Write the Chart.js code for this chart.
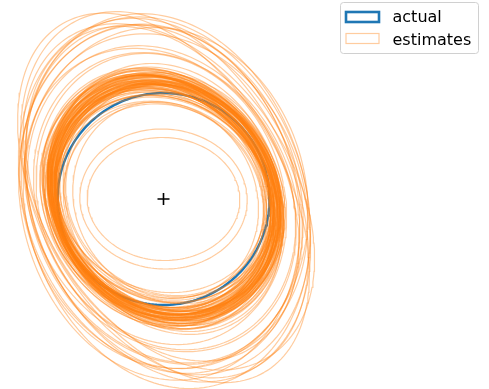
<!DOCTYPE html>
<html>
<head>
<meta charset="utf-8">
<script src="https://cdn.jsdelivr.net/npm/chart.js@4/dist/chart.umd.min.js"></script>
<style>
  html, body { margin: 0; padding: 0; background: #ffffff; }
  #wrap { width: 489px; height: 389px; }
</style>
</head>
<body>
<div id="wrap"><canvas id="c" width="489" height="389"></canvas></div>
<script>
// True ellipse (a circle) and the fitted estimates, in data units.
const actualCenterX = 0;
const actualCenterY = 0;
const actualRadius = 1;

// Fitted ellipses: centre, semi-axes and rotation (degrees, counter-clockwise).
const estCenterX = [
  0.02,-0.03,0.05,0.00,-0.04,0.03,0.01,-0.02,0.06,-0.05,
  0.04,-0.01,0.02,-0.06,0.03,0.00,-0.03,0.05,0.01,-0.02,
  0.04,-0.04,0.02,0.00,-0.01,0.06,-0.05,0.03,0.01,-0.03,
  0.02,-0.02,0.05,0.00,-0.04,0.01,0.03,-0.01,0.04,-0.06,
  0.02,0.00,-0.03,0.05,-0.02,0.01,0.03,-0.04,0.00,0.02,
  -0.01,0.04,-0.03,0.06,0.01,-0.05,0.02,0.00,-0.02,0.03,
  0.05,-0.01,0.01,-0.04,0.02,0.04,-0.02,0.00,0.03,-0.03,
  -0.02,0.03,0.00,0.04,-0.03,0.01,-0.01,0.02,
  0.01,-0.02,0.02,0.00,
  0.00,0.02,-0.03,0.04,-0.02,0.01,0.03,-0.04,0.05,0.00,-0.01,0.02,-0.03,0.04,0.01,-0.02,
  0.00,0.00
];
const estCenterY = [
  -0.02,0.03,0.00,-0.05,0.04,0.01,-0.03,0.06,-0.01,0.02,
  -0.04,0.00,0.05,-0.02,0.03,-0.06,0.01,-0.03,0.04,0.00,
  0.02,-0.01,-0.05,0.03,0.06,-0.02,0.01,-0.04,0.02,0.05,
  0.00,-0.03,0.04,0.01,-0.02,0.03,-0.05,0.02,-0.01,0.04,
  0.06,-0.04,0.00,0.02,-0.03,0.05,-0.02,0.01,0.03,-0.06,
  0.04,0.00,-0.01,0.03,-0.04,0.02,0.05,-0.02,0.01,-0.03,
  0.00,0.04,-0.05,0.02,0.03,-0.01,0.06,-0.03,0.01,0.00,
  0.03,-0.02,0.04,0.01,-0.03,-0.05,0.02,0.00,
  0.00,0.02,-0.01,-0.02,
  0.01,-0.02,0.03,-0.04,0.02,0.04,0.00,-0.03,0.02,-0.05,0.05,0.01,-0.01,0.03,-0.02,0.00,
  0.00,0.00
];
const estSemiMajor = [
  1.15,1.11,1.21,1.08,1.18,1.13,1.24,1.10,1.16,1.20,
  1.12,1.17,1.07,1.22,1.14,1.19,1.09,1.15,1.26,1.11,
  1.18,1.13,1.16,1.05,1.21,1.12,1.17,1.14,1.10,1.23,
  1.15,1.19,1.08,1.16,1.13,1.20,1.11,1.17,1.25,1.14,
  1.09,1.18,1.12,1.16,1.22,1.07,1.15,1.19,1.13,1.11,
  1.17,1.24,1.10,1.14,1.18,1.12,1.16,1.21,1.09,1.15,
  1.13,1.19,1.11,1.17,1.06,1.20,1.14,1.12,1.18,1.16,
  1.27,1.29,1.25,1.28,1.26,1.30,1.24,1.27,
  0.98,1.00,0.95,0.97,
  1.90,1.80,1.72,1.76,1.65,1.84,1.60,1.70,1.78,1.55,1.68,1.62,1.50,1.74,1.45,1.40,
  0.72,0.79
];
const estSemiMinor = [
  1.00,0.98,1.03,0.96,1.01,1.04,0.99,0.97,1.02,1.05,
  0.95,1.00,0.98,1.03,1.01,0.99,0.94,1.02,1.06,0.97,
  1.00,1.04,0.98,0.95,1.01,1.03,0.99,0.96,1.02,1.05,
  0.97,1.00,0.94,1.03,0.99,1.01,0.98,1.04,1.02,0.96,
  0.99,1.05,0.97,1.01,1.00,0.93,1.03,0.98,1.02,0.96,
  1.01,1.04,0.95,0.99,1.02,0.98,1.06,1.00,0.97,1.03,
  0.99,1.01,0.96,1.04,0.94,1.00,1.02,0.97,1.03,0.98,
  1.05,1.03,1.07,1.04,1.06,1.02,1.08,1.05,
  0.86,0.88,0.85,0.89,
  1.15,1.32,1.28,1.25,1.30,1.20,1.28,1.30,1.18,1.22,1.15,1.33,1.20,1.28,1.18,1.15,
  0.58,0.66
];
const estAngleDeg = [
  -55,-48,-62,-40,-58,-51,-66,-45,-53,-60,
  -37,-56,-49,-64,-52,-43,-59,-54,-70,-47,
  -57,-50,-63,-35,-55,-61,-46,-53,-68,-58,
  -44,-57,-51,-65,-49,-54,-42,-60,-56,-52,
  -38,-62,-48,-55,-59,-33,-53,-67,-50,-45,
  -58,-61,-41,-54,-57,-49,-64,-52,-46,-56,
  -60,-51,-43,-59,-72,-55,-48,-53,-62,-50,
  -56,-60,-50,-63,-54,-58,-47,-61,
  -40,-25,-60,-35,
  -60,-74,-70,-66,-72,-63,-68,-76,-58,-65,-62,-78,-60,-69,-64,-70,
  -2,-3
];

const legendLabels = ['actual', 'estimates'];

const BLUE = '#1f77b4';
const ORANGE_FAINT = 'rgba(255,127,14,0.4)';

// Sample an ellipse outline as a closed polyline in data units.
function ellipsePoints(cx, cy, a, b, deg, n) {
  const t = deg * Math.PI / 180;
  const ct = Math.cos(t), st = Math.sin(t);
  const pts = [];
  for (let i = 0; i <= n; i++) {
    const p = 2 * Math.PI * i / n;
    const u = a * Math.cos(p), v = b * Math.sin(p);
    pts.push({ x: cx + u * ct - v * st, y: cy + u * st + v * ct });
  }
  return pts;
}

const datasets = [];
// centre marker on top
datasets.push({
  label: 'centre',
  data: [{ x: actualCenterX, y: actualCenterY }],
  showLine: false,
  pointStyle: 'cross',
  pointRadius: 6,
  borderColor: '#000000',
  borderWidth: 1.6,
  order: 0
});
for (let i = 0; i < estCenterX.length; i++) {
  datasets.push({
    label: legendLabels[1],
    data: ellipsePoints(estCenterX[i], estCenterY[i], estSemiMajor[i], estSemiMinor[i], estAngleDeg[i], 180),
    showLine: true,
    fill: false,
    pointRadius: 0,
    borderColor: ORANGE_FAINT,
    borderWidth: 1.2,
    tension: 0,
    order: 1
  });
}
datasets.push({
  label: legendLabels[0],
  data: ellipsePoints(actualCenterX, actualCenterY, actualRadius, actualRadius, 0, 200),
  showLine: true,
  fill: false,
  pointRadius: 0,
  borderColor: BLUE,
  borderWidth: 2.4,
  tension: 0,
  order: 2
});

// Boxed legend in the upper-right corner.
const boxLegend = {
  id: 'boxLegend',
  afterDraw(chart) {
    const ctx = chart.ctx;
    ctx.save();
    const x0 = 340.5, y0 = 2.5, w = 138, h = 51, r = 3;
    ctx.beginPath();
    ctx.moveTo(x0 + r, y0);
    ctx.lineTo(x0 + w - r, y0);
    ctx.arcTo(x0 + w, y0, x0 + w, y0 + r, r);
    ctx.lineTo(x0 + w, y0 + h - r);
    ctx.arcTo(x0 + w, y0 + h, x0 + w - r, y0 + h, r);
    ctx.lineTo(x0 + r, y0 + h);
    ctx.arcTo(x0, y0 + h, x0, y0 + h - r, r);
    ctx.lineTo(x0, y0 + r);
    ctx.arcTo(x0, y0, x0 + r, y0, r);
    ctx.closePath();
    ctx.fillStyle = 'rgba(255,255,255,0.8)';
    ctx.fill();
    ctx.strokeStyle = '#d0d0d0';
    ctx.lineWidth = 1;
    ctx.stroke();

    ctx.lineWidth = 2.6;
    ctx.strokeStyle = BLUE;
    ctx.strokeRect(346, 12, 33, 10);
    ctx.lineWidth = 1.2;
    ctx.strokeStyle = ORANGE_FAINT;
    ctx.strokeRect(346, 33.5, 33, 10);

    ctx.fillStyle = '#000000';
    ctx.font = '16px "DejaVu Sans", sans-serif';
    ctx.textBaseline = 'alphabetic';
    ctx.textAlign = 'left';
    ctx.fillText(legendLabels[0], 392.5, 21.5);
    ctx.fillText(legendLabels[1], 392.5, 45);
    ctx.restore();
  }
};

const PX_PER_UNIT = 106;
const CX = 163.5, CY = 199;

new Chart(document.getElementById('c'), {
  type: 'scatter',
  data: { datasets },
  options: {
    responsive: false,
    animation: false,
    layout: { padding: 0, autoPadding: false },
    plugins: { legend: { display: false }, tooltip: { enabled: false } },
    events: [],
    scales: {
      x: { type: 'linear', display: false, min: -CX / PX_PER_UNIT, max: (489 - CX) / PX_PER_UNIT },
      y: { type: 'linear', display: false, min: -(389 - CY) / PX_PER_UNIT, max: CY / PX_PER_UNIT }
    }
  },
  plugins: [boxLegend]
});
</script>
</body>
</html>
